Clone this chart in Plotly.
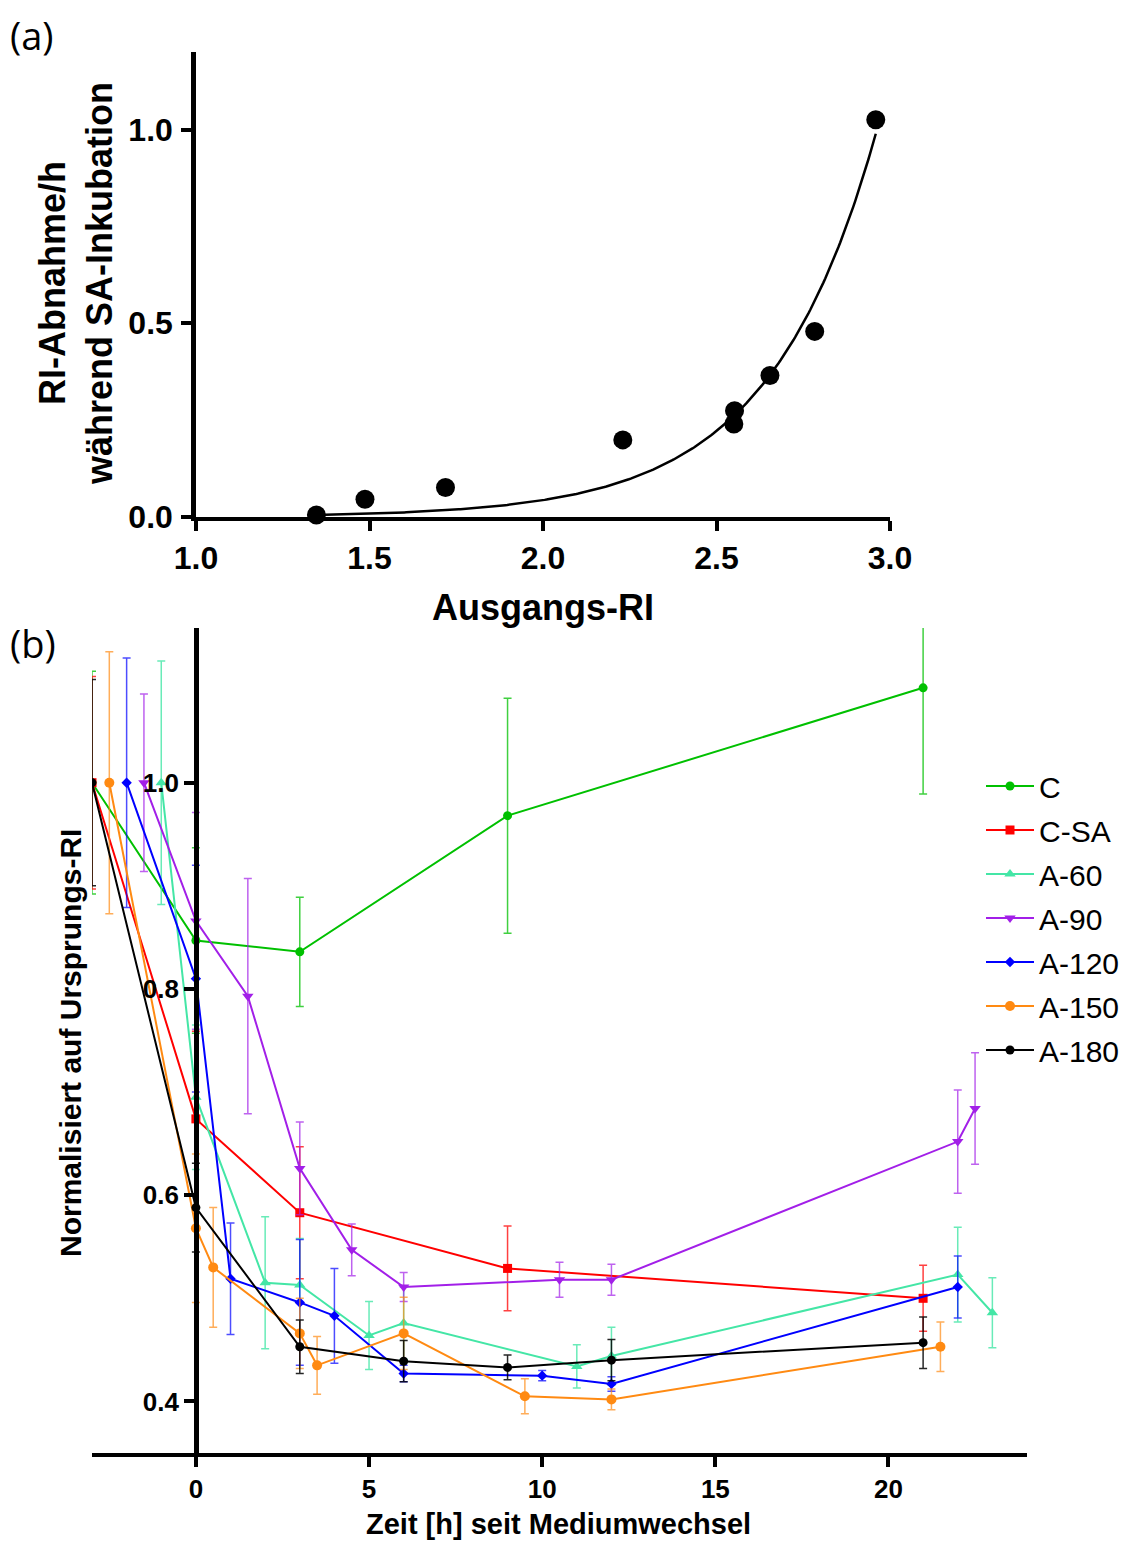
import numpy as np
import plotly.graph_objects as go

W, H = 1141, 1541

# ---------------- Panel (a) data ----------------
ri_start = [1.347, 1.487, 1.719, 2.230, 2.550, 2.552, 2.654, 2.783, 2.959]
ri_rate = [0.005, 0.046, 0.076, 0.199, 0.240, 0.274, 0.365, 0.479, 1.025]

# ---------------- Panel (b) data ----------------
series_names = ["C", "C-SA", "A-60", "A-90", "A-120", "A-150", "A-180"]

c_x = [-3, 0, 3, 9, 21]
c_y = [1.0, 0.847, 0.836, 0.968, 1.092]
c_e = [0.108, 0.090, 0.053, 0.114, 0.103]

csa_x = [-3, 0, 3, 9, 21]
csa_y = [1.0, 0.674, 0.583, 0.529, 0.500]
csa_e = [0.103, 0.085, 0.064, 0.041, 0.032]

a60_x = [-1, 0, 2, 3, 5, 6, 11, 12, 22, 23]
a60_y = [1.0, 0.695, 0.515, 0.513, 0.464, 0.476, 0.434, 0.444, 0.523, 0.486]
a60_e = [0.118, 0.070, 0.064, 0.045, 0.033, 0.035, 0.021, 0.028, 0.046, 0.034]

a90_x = [-1.5, 0, 1.5, 3, 4.5, 6, 10.5, 12, 22, 22.5]
a90_y = [1.0, 0.866, 0.793, 0.626, 0.547, 0.511, 0.518, 0.518, 0.652, 0.684]
a90_e = [0.086, 0.105, 0.114, 0.045, 0.025, 0.014, 0.017, 0.015, 0.050, 0.054]

a120_x = [-2, 0, 1, 3, 4, 6, 10, 12, 22]
a120_y = [1.0, 0.810, 0.519, 0.496, 0.483, 0.427, 0.425, 0.417, 0.511]
a120_e = [0.121, 0.110, 0.054, 0.061, 0.046, 0.008, 0.005, 0.007, 0.030]

a150_x = [-2.5, 0, 0.5, 3, 3.5, 6, 9.5, 12, 21.5]
a150_y = [1.0, 0.568, 0.530, 0.466, 0.435, 0.466, 0.405, 0.402, 0.453]
a150_e = [0.127, 0.072, 0.058, 0.034, 0.028, 0.035, 0.017, 0.010, 0.024]

a180_x = [-3, 0, 3, 6, 9, 12, 21]
a180_y = [1.0, 0.588, 0.453, 0.439, 0.433, 0.440, 0.457]
a180_e = [0.100, 0.043, 0.026, 0.020, 0.012, 0.020, 0.025]

series_x = [c_x, csa_x, a60_x, a90_x, a120_x, a150_x, a180_x]
series_y = [c_y, csa_y, a60_y, a90_y, a120_y, a150_y, a180_y]
series_e = [c_e, csa_e, a60_e, a90_e, a120_e, a150_e, a180_e]
colors = ["#00C000", "#FF0000", "#44E6A6", "#A21FE8", "#0000FF", "#FF8A12", "#000000"]
err_colors = ["rgba(0,192,0,0.75)", "rgba(255,0,0,0.75)", "rgba(68,230,166,0.8)",
              "rgba(162,31,232,0.7)", "rgba(0,0,255,0.7)", "rgba(255,138,18,0.7)", "rgba(0,0,0,0.85)"]
symbols = ["circle", "square", "triangle-up", "triangle-down", "diamond", "circle", "circle"]
msizes = [9, 9, 10, 10, 8, 10, 9]

FONT = "Liberation Sans, Arial, sans-serif"

# page body has an 8px default margin: compensate so that screen pixels match
OFF = 8

def px_x(p):
    return (p - OFF) / W

def px_y(p):
    return 1 - (p - OFF) / H

# domains
a_xdom = [px_x(196), px_x(890)]
a_ydom = [px_y(517), px_y(52)]
b_xdom = [px_x(92), px_x(1027)]
b_ydom = [px_y(1453), px_y(628)]
b_xrange = [-3, 24]

fig = go.Figure()

# ---- panel (a): exponential least-squares fit from data ----
xa = np.array(ri_start)
ya = np.array(ri_rate)
best = None
for k in np.arange(0.5, 8.0, 0.001):
    e = np.exp(k * xa)
    A = np.sum(ya * e) / np.sum(e * e)
    sse = np.sum((ya - A * e) ** 2)
    if best is None or sse < best[0]:
        best = (sse, A, k)
_, fitA, fitK = best
xfit = np.linspace(xa.min(), xa.max(), 300)
yfit = fitA * np.exp(fitK * xfit)

fig.add_trace(go.Scatter(x=xfit, y=yfit, mode="lines", line=dict(color="black", width=2.5),
                         xaxis="x", yaxis="y", showlegend=False, hoverinfo="skip"))
fig.add_trace(go.Scatter(x=ri_start, y=ri_rate, mode="markers",
                         marker=dict(color="black", size=19), cliponaxis=False,
                         xaxis="x", yaxis="y", showlegend=False))

# ---- panel (b) ----
for i, name in enumerate(series_names):
    fig.add_trace(go.Scatter(
        x=series_x[i], y=series_y[i], name=name, mode="lines+markers",
        line=dict(color=colors[i], width=2),
        marker=dict(color=colors[i], symbol=symbols[i], size=msizes[i]),
        error_y=dict(type="data", array=series_e[i], visible=True,
                     color=err_colors[i], thickness=1.5, width=4),
        xaxis="x2", yaxis="y2", legendgroup=name,
    ))

b_ypos = b_xdom[0] + (0 - b_xrange[0]) / (b_xrange[1] - b_xrange[0]) * (b_xdom[1] - b_xdom[0])

tick_a = dict(family=FONT, size=32, color="black", weight="bold")
tick_b = dict(family=FONT, size=26, color="black", weight="bold")

fig.update_layout(
    width=W, height=H, autosize=False,
    margin=dict(l=0, r=0, t=0, b=0, pad=0, autoexpand=False),
    paper_bgcolor="white", plot_bgcolor="white",
    font=dict(family=FONT, color="black"),
    xaxis=dict(domain=a_xdom, anchor="y", range=[1.0, 3.0], tickvals=[1.0, 1.5, 2.0, 2.5, 3.0],
               tickformat=".1f", showgrid=False, zeroline=False, showline=True, linecolor="black",
               linewidth=4, ticks="outside", ticklen=10, tickwidth=4, tickcolor="black",
               tickfont=tick_a, ticklabelstandoff=0, automargin=False),
    yaxis=dict(domain=a_ydom, anchor="x", range=[0, 1.2], tickvals=[0.0, 0.5, 1.0],
               tickformat=".1f", showgrid=False, zeroline=False, showline=True, linecolor="black",
               linewidth=4.5, ticks="outside", ticklen=10, tickwidth=4, tickcolor="black",
               tickfont=tick_a, ticklabelstandoff=2, automargin=False),
    xaxis2=dict(domain=b_xdom, anchor="y2", range=b_xrange, tickvals=[0, 5, 10, 15, 20],
                showgrid=False, zeroline=False, showline=True, linecolor="black",
                linewidth=4, ticks="outside", ticklen=10, tickwidth=3.5, tickcolor="black",
                tickfont=tick_b, ticklabelstandoff=0, automargin=False),
    yaxis2=dict(domain=b_ydom, anchor="free", position=b_ypos, range=[0.35, 1.15],
                tickvals=[0.4, 0.6, 0.8, 1.0], tickformat=".1f",
                showgrid=False, zeroline=False, showline=True, linecolor="black",
                linewidth=4.5, ticks="outside", ticklen=10, tickwidth=3.5, tickcolor="black",
                tickfont=tick_b, ticklabelstandoff=0, automargin=False),
    legend=dict(x=px_x(981), y=px_y(760), xanchor="left", yanchor="top",
                font=dict(family=FONT, size=30, color="black"),
                itemwidth=48, tracegroupgap=2, bgcolor="rgba(0,0,0,0)"),
    showlegend=True,
)

annotations = [
    dict(text="(a)", x=px_x(8), y=px_y(35), xanchor="left", yanchor="middle",
         font=dict(family="Open Sans, sans-serif", size=38, color="black")),
    dict(text="(b)", x=px_x(8), y=px_y(643), xanchor="left", yanchor="middle",
         font=dict(family="Open Sans, sans-serif", size=38, color="black")),
    dict(text="RI-Abnahme/h<br>während SA-Inkubation", x=px_x(76), y=px_y(284),
         xanchor="center", yanchor="middle", textangle=-90,
         font=dict(family=FONT, size=36, color="black", weight="bold")),
    dict(text="Ausgangs-RI", x=px_x(543), y=px_y(608), xanchor="center", yanchor="middle",
         font=dict(family=FONT, size=36, color="black", weight="bold")),
    dict(text="Normalisiert auf Ursprungs-RI", x=px_x(70), y=px_y(1043),
         xanchor="center", yanchor="middle", textangle=-90,
         font=dict(family=FONT, size=30, color="black", weight="bold")),
    dict(text="Zeit [h] seit Mediumwechsel", x=px_x(558), y=px_y(1524), xanchor="center", yanchor="middle",
         font=dict(family=FONT, size=29, color="black", weight="bold")),
]
for a in annotations:
    a.update(xref="paper", yref="paper", showarrow=False)
fig.update_layout(annotations=annotations)

fig.write_html("out.html")
